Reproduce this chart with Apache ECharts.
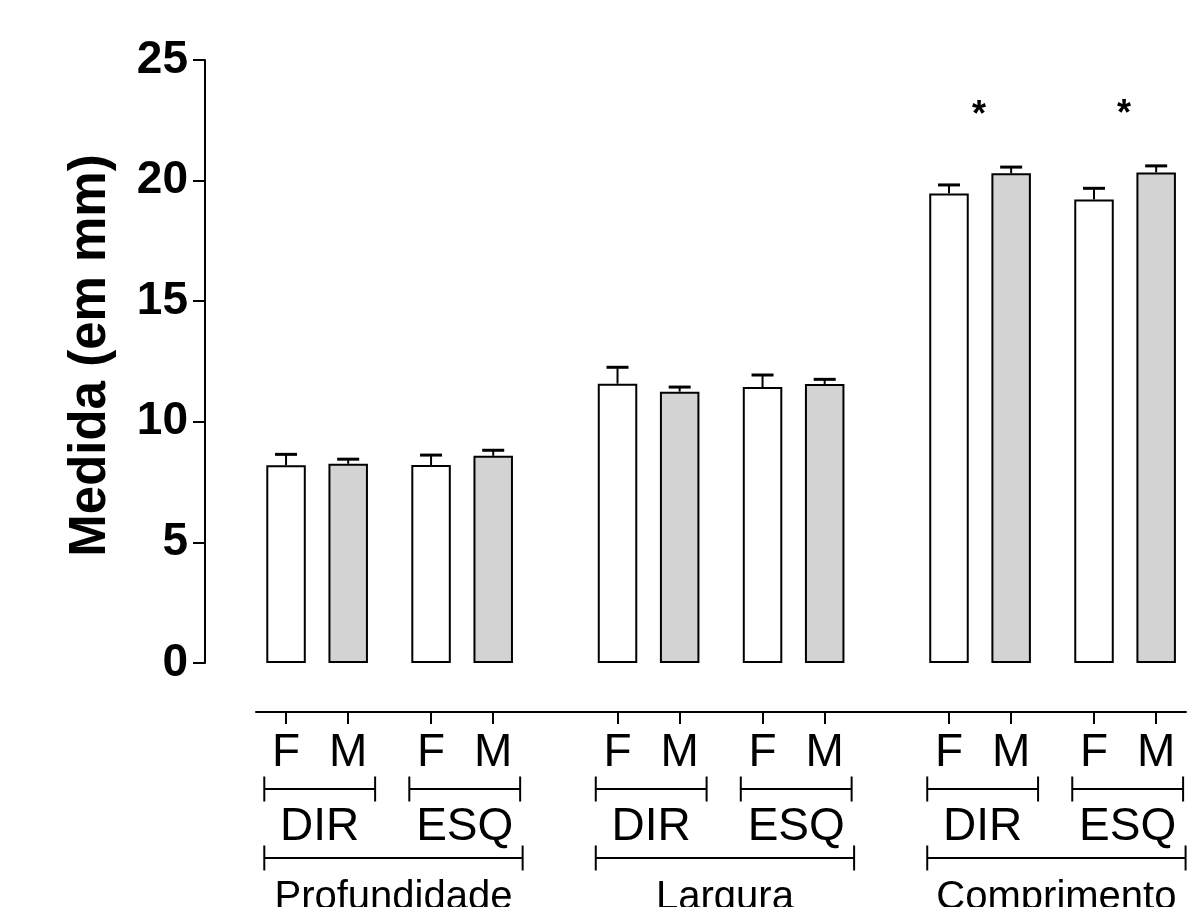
<!DOCTYPE html>
<html>
<head>
<meta charset="utf-8">
<script src="https://cdn.jsdelivr.net/npm/echarts@6/dist/echarts.min.js"></script>
<style>
html,body{margin:0;padding:0;background:#fff;}
#chart{width:1192px;height:907px;}
</style>
</head>
<body>
<div id="chart"></div>
<script>
// ---- data ----
const measures = ['Profundidade', 'Largura', 'Comprimento'];
const sides = ['DIR', 'ESQ'];
const sexes = ['F', 'M'];
// bar order: measure -> side -> sex
const means = [8.20, 8.26, 8.21, 8.59, 11.58, 11.25, 11.44, 11.57, 19.47, 20.30, 19.22, 20.34];
const sems  = [0.45, 0.19, 0.41, 0.23, 0.68, 0.19, 0.50, 0.19, 0.35, 0.26, 0.46, 0.27];
// significance mark per measure/side group
const sigMarks = ['', '', '', '', '*', '*'];
const yMin = 0, yMax = 25, yStep = 5;

// ---- layout (code, not data) ----
const FONT = "'Liberation Sans', Arial, Helvetica, sans-serif";
const sexColors = ['#ffffff', '#d3d3d3'];
function barPos(mi, si, xi) { return mi * 16 + si * 7 + xi * 3; }

const bars = [], errs = [], positions = [], tickLabels = [];
let k = 0;
measures.forEach((m, mi) => sides.forEach((s, si) => sexes.forEach((x, xi) => {
  const p = barPos(mi, si, xi);
  positions.push(p);
  tickLabels.push(x);
  bars.push({ value: [p, means[k]], itemStyle: { color: sexColors[xi] } });
  errs.push([p, means[k], sems[k]]);
  k++;
})));

// brackets: level 1 = side groups, level 2 = measure groups
const brackets = [];
measures.forEach((m, mi) => {
  sides.forEach((s, si) => {
    brackets.push([barPos(mi, si, 0) - 1.05, barPos(mi, si, 1) + 1.3, 1, s]);
  });
  brackets.push([barPos(mi, 0, 0) - 1.05, barPos(mi, 1, 1) + 1.42, 2, m]);
});

const stars = [];
let g = 0;
measures.forEach((m, mi) => sides.forEach((s, si) => {
  if (sigMarks[g]) {
    const i0 = g * 2;
    const top = Math.max(means[i0] + sems[i0], means[i0 + 1] + sems[i0 + 1]);
    stars.push([barPos(mi, si, 0) + 1.45, top + 2.1, sigMarks[g]]);
  }
  g++;
}));

const chart = echarts.init(document.getElementById('chart'));
chart.setOption({
  animation: false,
  backgroundColor: '#fff',
  grid: { left: 256, right: 6, top: 60, bottom: 244, containLabel: false },
  xAxis: {
    type: 'value', min: -1.45, max: 43.44, offset: 49,
    splitLine: { show: false },
    axisLine: { show: true, onZero: false, lineStyle: { color: '#000', width: 2 } },
    axisTick: { show: true, length: 12, customValues: positions, lineStyle: { color: '#000', width: 2 } },
    axisLabel: {
      show: true, customValues: positions, margin: 18,
      fontSize: 46, color: '#000', fontFamily: FONT,
      formatter: v => { const i = positions.indexOf(Math.round(v)); return i >= 0 ? tickLabels[i] : ''; }
    }
  },
  yAxis: {
    type: 'value', min: yMin, max: yMax, interval: yStep, offset: 51,
    name: 'Medida (em mm)', nameLocation: 'middle', nameGap: 89, nameRotate: 90,
    nameTextStyle: { fontSize: 51, fontWeight: 'bold', color: '#000', fontFamily: FONT, padding: [0, 0, 0, 12] },
    splitLine: { show: false },
    axisLine: { show: true, onZero: false, lineStyle: { color: '#000', width: 2 } },
    axisTick: { show: true, length: 12, lineStyle: { color: '#000', width: 2 } },
    axisLabel: { margin: 17, fontSize: 46, fontWeight: 'bold', color: '#000', fontFamily: FONT }
  },
  series: [
    {
      type: 'bar', data: bars, barWidth: 39.5,
      itemStyle: { borderColor: '#000', borderWidth: 2 }, z: 2
    },
    {
      type: 'custom', data: errs, z: 3, clip: false,
      renderItem: (params, api) => {
        const x = api.value(0), m = api.value(1), e = api.value(2);
        const p0 = api.coord([x, m]), p1 = api.coord([x, m + e]);
        return { type: 'group', children: [
          { type: 'line', shape: { x1: p0[0], y1: p0[1], x2: p1[0], y2: p1[1] }, style: { stroke: '#000', lineWidth: 2 } },
          { type: 'line', shape: { x1: p1[0] - 11, y1: p1[1], x2: p1[0] + 11, y2: p1[1] }, style: { stroke: '#000', lineWidth: 3 } }
        ]};
      }
    },
    {
      type: 'custom', data: brackets, z: 3, clip: false,
      renderItem: (params, api) => {
        const b = brackets[params.dataIndex];
        const a = api.coord([b[0], 0]), c = api.coord([b[1], 0]);
        const lvl = b[2];
        const y = a[1] + (lvl === 1 ? 126 : 195);
        const mid = (a[0] + c[0]) / 2;
        const st = { stroke: '#000', lineWidth: 2 };
        return { type: 'group', children: [
          { type: 'line', shape: { x1: a[0], y1: y, x2: c[0], y2: y }, style: st },
          { type: 'line', shape: { x1: a[0], y1: y - 12.5, x2: a[0], y2: y + 12.5 }, style: st },
          { type: 'line', shape: { x1: c[0], y1: y - 12.5, x2: c[0], y2: y + 12.5 }, style: st },
          { type: 'text', style: {
              text: b[3], x: mid, y: y + (lvl === 1 ? 38.5 : 39.5),
              align: 'center', verticalAlign: 'middle',
              fontSize: lvl === 1 ? 46 : 40, fontFamily: FONT, fill: '#000' } }
        ]};
      }
    },
    {
      type: 'custom', data: stars, z: 3, clip: false,
      renderItem: (params, api) => {
        const p = api.coord([api.value(0), api.value(1)]);
        return { type: 'text', style: {
          text: stars[params.dataIndex][2], x: p[0], y: p[1],
          align: 'center', verticalAlign: 'middle',
          fontSize: 36, fontWeight: 'bold', fontFamily: FONT, fill: '#000' } };
      }
    }
  ]
});
</script>
</body>
</html>
